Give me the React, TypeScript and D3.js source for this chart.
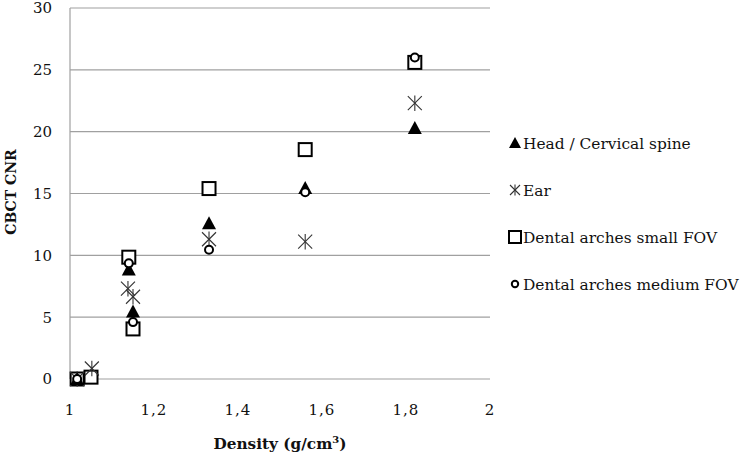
import React from "react";
import * as d3 from "d3";

const headX = [1.017, 1.14, 1.15, 1.331, 1.56, 1.821];
const headY = [0, 8.85, 5.45, 12.6, 15.45, 20.3];
const earX = [1.017, 1.052, 1.138, 1.15, 1.331, 1.56, 1.821];
const earY = [0, 0.85, 7.3, 6.65, 11.3, 11.1, 22.3];
const smallX = [1.017, 1.05, 1.14, 1.15, 1.331, 1.56, 1.821];
const smallY = [0, 0.15, 9.85, 4.05, 15.4, 18.55, 25.6];
const medX = [1.017, 1.14, 1.15, 1.331, 1.56, 1.821];
const medY = [0, 9.35, 4.6, 10.45, 15.1, 26.0];

const xTicks = [1, 1.2, 1.4, 1.6, 1.8, 2];
const yTicks = [0, 5, 10, 15, 20, 25, 30];
const legendLabels = [
  "Head / Cervical spine",
  "Ear",
  "Dental arches small FOV",
  "Dental arches medium FOV",
];

const W = 740;
const H = 454;
const FONT = "'DejaVu Serif', serif";

function Triangle({ x, y, s = 7 }: { x: number; y: number; s?: number }) {
  return (
    <path
      d={`M${x},${y - s} L${x + s},${y + s * 0.85} L${x - s},${y + s * 0.85} Z`}
      fill="#000"
    />
  );
}
function Star({ x, y, s = 7 }: { x: number; y: number; s?: number }) {
  return (
    <g stroke="#333" strokeWidth={1.1}>
      <line x1={x - s} y1={y - s} x2={x + s} y2={y + s} />
      <line x1={x - s} y1={y + s} x2={x + s} y2={y - s} />
      <line x1={x} y1={y - s * 1.1} x2={x} y2={y + s * 1.1} />
    </g>
  );
}
function Square({ x, y, s = 6.5 }: { x: number; y: number; s?: number }) {
  return (
    <rect x={x - s} y={y - s} width={2 * s} height={2 * s} fill="#fff" stroke="#000" strokeWidth={2} />
  );
}
function Circle({ x, y, r = 4 }: { x: number; y: number; r?: number }) {
  return <circle cx={x} cy={y} r={r} fill="#fff" stroke="#000" strokeWidth={2} />;
}

export default function App() {
  const x = d3.scaleLinear().domain([1, 2]).range([70, 490]);
  const y = d3.scaleLinear().domain([0, 30]).range([379, 8]);
  const fmt = (v: number) => String(v).replace(".", ",");

  return (
    <svg width={W} height={H} style={{ position: "absolute", left: 0, top: 0, background: "#fff" }}>
      <rect width={W} height={H} fill="#fff" />
      {yTicks.map((t) => (
        <g key={"y" + t}>
          <line x1={70} x2={490} y1={y(t)} y2={y(t)} stroke="#a0a0a0" strokeWidth={1.2} />
          <text x={52} y={y(t)} dy="0.36em" textAnchor="end" fontFamily={FONT} fontSize={15} fill="#111">
            {t}
          </text>
        </g>
      ))}
      <line x1={70} x2={70} y1={y(30)} y2={y(0)} stroke="#a0a0a0" strokeWidth={1.2} />
      {xTicks.map((t) => (
        <text key={"x" + t} x={x(t)} y={414.5} textAnchor="middle" fontFamily={FONT} fontSize={15} letterSpacing={1} fill="#111">
          {fmt(t)}
        </text>
      ))}
      <text
        transform={`translate(11,${192}) rotate(-90)`}
        textAnchor="middle"
        dy="0.36em"
        fontFamily={FONT}
        fontWeight="bold"
        fontSize={14}
        fill="#111"
      >
        CBCT CNR
      </text>
      <text x={280} y={449} textAnchor="middle" fontFamily={FONT} fontWeight="bold" fontSize={15.3} fill="#111">
        Density (g/cm<tspan fontSize={10} dy={-6}>3</tspan>
        <tspan dy={6}>)</tspan>
      </text>

      {smallX.map((v, i) => (
        <Square key={"s" + i} x={x(v)} y={y(smallY[i])} />
      ))}
      {earX.map((v, i) => (
        <Star key={"e" + i} x={x(v)} y={y(earY[i])} />
      ))}
      {headX.map((v, i) => (
        <Triangle key={"h" + i} x={x(v)} y={y(headY[i])} />
      ))}
      {medX.map((v, i) => (
        <Circle key={"m" + i} x={x(v)} y={y(medY[i])} />
      ))}

      {legendLabels.map((l, i) => {
        const ly = [143, 190, 237, 284][i];
        const mx = 515;
        return (
          <g key={"l" + i}>
            {i === 0 && <Triangle x={mx} y={ly} s={6} />}
            {i === 1 && <Star x={mx} y={ly} s={5} />}
            {i === 2 && <Square x={mx} y={ly} s={6} />}
            {i === 3 && <Circle x={mx} y={ly} r={3.2} />}
            <text x={523} y={ly} dy="0.36em" fontFamily={FONT} fontSize={15.4} fill="#111">
              {l}
            </text>
          </g>
        );
      })}
    </svg>
  );
}
